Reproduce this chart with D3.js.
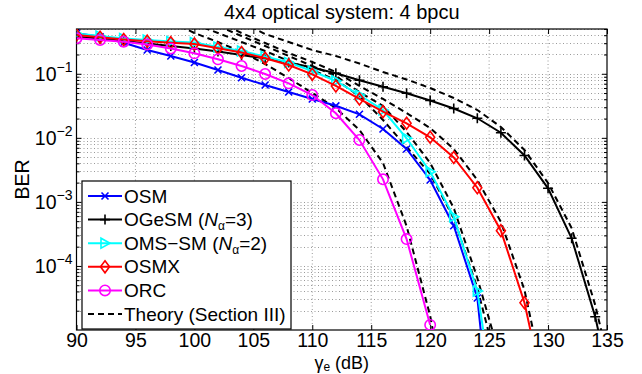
<!DOCTYPE html>
<html>
<head>
<meta charset="utf-8">
<script src="https://cdn.jsdelivr.net/npm/d3@7"></script>
<style>
  body { margin: 0; background: #fff; }
  svg { display: block; font-family: "Liberation Sans", Arial, Helvetica, sans-serif; }
</style>
</head>
<body>
<svg id="chart" width="642" height="374"></svg>
<script>
/* BER curves. Simulated curves share the 2 dB grid,
   theory curves start further right because they begin above BER = 0.5 */
const snrSim = [90, 92, 94, 96, 98, 100, 102, 104, 106, 108, 110, 112, 114, 116, 118, 120, 122, 124, 126, 128, 130, 132, 134, 136];

const berOSM   = [0.428, 0.379, 0.3055, 0.235, 0.1894, 0.15, 0.1146, 0.0868, 0.0668, 0.0519, 0.0404, 0.0316, 0.0233, 0.01374, 0.0067, 0.0022, 4.25e-4, 3.16e-5, 1e-8];
const berOGeSM = [0.38, 0.3553, 0.3249, 0.297, 0.2714, 0.248, 0.2227, 0.1964, 0.1732, 0.15, 0.1253, 0.1017, 0.0791, 0.0628, 0.0496, 0.0383, 0.0287, 0.0202, 0.012, 0.0053, 0.00163, 2.7e-4, 1.61e-5, 3.5e-7];
const berOMSSM = [0.4253, 0.3888, 0.3553, 0.3367, 0.319, 0.3078, 0.2618, 0.2267, 0.186, 0.15, 0.1105, 0.0772, 0.0466, 0.0272, 0.00984, 0.00296, 5.87e-4, 4.06e-5, 1.5e-7];
const berOSMX  = [0.403, 0.371, 0.3428, 0.3225, 0.3055, 0.2915, 0.2498, 0.2149, 0.1744, 0.1371, 0.0981, 0.0645, 0.0404, 0.0256, 0.01687, 0.0102, 0.00493, 0.001665, 3.55e-4, 2.67e-5, 5.3e-7];
const berORC   = [0.36, 0.3367, 0.3166, 0.2864, 0.248, 0.2088, 0.1683, 0.1322, 0.0992, 0.071, 0.0466, 0.0242, 0.00925, 0.00225, 2.63e-4, 1.2e-5];

const snrThOSM   = [100, 102, 104, 106, 108, 110, 112, 114, 116, 118, 120, 122, 124, 126];
const thOSM      = [0.598, 0.433, 0.3133, 0.2267, 0.1583, 0.1146, 0.08, 0.045, 0.019, 0.0072, 0.00273, 5.61e-4, 4.53e-5, 1.66e-6];
const snrThOGeSM = [104, 106, 108, 110, 112, 114, 116, 118, 120, 122, 124, 126, 128, 130, 132, 134, 136];
const thOGeSM    = [0.643, 0.418, 0.3133, 0.235, 0.1894, 0.1447, 0.1066, 0.0814, 0.06, 0.0419, 0.0272, 0.01476, 0.00646, 0.00197, 3.91e-4, 2.46e-5, 6.8e-7];
const snrThOMSSM = [102, 104, 106, 108, 110, 112, 114, 116, 118, 120, 122, 124, 126];
const thOMSSM    = [0.557, 0.3888, 0.2714, 0.1894, 0.1322, 0.0923, 0.0519, 0.0314, 0.01234, 0.00405, 8.03e-4, 6.49e-5, 3.4e-6];
const snrThOSMX  = [102, 104, 106, 108, 110, 112, 114, 116, 118, 120, 122, 124, 126, 128, 130];
const thOSMX     = [0.643, 0.433, 0.3023, 0.2111, 0.1527, 0.1066, 0.0645, 0.0404, 0.0244, 0.01424, 0.0067, 0.0022, 4.86e-4, 4.21e-5, 8.1e-7];
const snrThORC   = [98, 100, 102, 104, 106, 108, 110, 112, 114, 116, 118, 120, 122];
const thORC      = [0.643, 0.433, 0.3133, 0.2188, 0.1421, 0.0859, 0.0501, 0.0292, 0.01326, 0.00405, 4.2e-4, 1.66e-5, 1.9e-7];

const xTicks = [90, 95, 100, 105, 110, 115, 120, 125, 130, 135];
const yDecades = [1e-4, 1e-3, 1e-2, 1e-1];
const yDecadeLabels = ["\u22124", "\u22123", "\u22122", "\u22121"];

const titleText = "4x4 optical system: 4 bpcu";

// simulated series: name pieces (for the legend), colour, marker
const series = [
  { label: [["OSM"]],                                    color: "#0000ff", marker: "x",        snr: snrSim, ber: berOSM },
  { label: [["OGeSM ("], ["N", "i"], ["\u03b1", "sub"], ["=3)"]], color: "#000000", marker: "plus",     snr: snrSim, ber: berOGeSM },
  { label: [["OMS\u2212SM ("], ["N", "i"], ["\u03b1", "sub"], ["=2)"]], color: "#00ffff", marker: "triangle", snr: snrSim, ber: berOMSSM },
  { label: [["OSMX"]],                                   color: "#ff0000", marker: "diamond",  snr: snrSim, ber: berOSMX },
  { label: [["ORC"]],                                    color: "#ff00ff", marker: "circle",   snr: snrSim, ber: berORC }
];
const theory = [
  { snr: snrThOSM, ber: thOSM },
  { snr: snrThOGeSM, ber: thOGeSM },
  { snr: snrThOMSSM, ber: thOMSSM },
  { snr: snrThOSMX, ber: thOSMX },
  { snr: snrThORC, ber: thORC }
];

const W = 642, H = 374;
const plot = { left: 76.5, right: 607, top: 29, bottom: 330 };
const FONT = 19.5;

const svg = d3.select("#chart");
const x = d3.scaleLinear().domain([90, 135]).range([plot.left, plot.right]);
const y = d3.scaleLog().domain([1e-5, 0.5]).range([plot.bottom, plot.top]);

svg.append("rect").attr("width", W).attr("height", H).attr("fill", "#fff");

svg.append("defs").append("clipPath").attr("id", "clip")
  .append("rect")
  .attr("x", plot.left).attr("y", plot.top)
  .attr("width", plot.right - plot.left).attr("height", plot.bottom - plot.top);

// minor y values (2..9 x 10^k) for grid + ticks
const yMinor = [];
for (let k = -5; k <= -1; k++) {
  for (let m = 2; m <= 9; m++) {
    const v = m * Math.pow(10, k);
    if (v <= 0.5) yMinor.push(v);
  }
}

// grid (dotted, MATLAB style)
const grid = svg.append("g").attr("stroke", "#9a9a9a").attr("stroke-width", 1)
  .attr("stroke-dasharray", "1,2.5").attr("fill", "none");
grid.selectAll(".gx").data(xTicks.slice(1, -1)).join("line")
  .attr("x1", d => x(d)).attr("x2", d => x(d))
  .attr("y1", plot.top).attr("y2", plot.bottom);
grid.selectAll(".gy").data(yDecades.concat(yMinor)).join("line")
  .attr("x1", plot.left).attr("x2", plot.right)
  .attr("y1", d => Math.round(y(d)) + 0.5).attr("y2", d => Math.round(y(d)) + 0.5);

// axes: inward ticks on all four sides
function styleAxis(g) {
  g.select(".domain").remove();
  g.selectAll("line").attr("stroke", "#000");
  g.selectAll("text").attr("font-size", FONT).attr("fill", "#000");
}
svg.append("g").attr("transform", `translate(0,${plot.bottom})`)
  .call(d3.axisBottom(x).tickValues(xTicks).tickSizeInner(-5).tickSizeOuter(0).tickPadding(3))
  .call(styleAxis);
svg.append("g").attr("transform", `translate(0,${plot.top})`)
  .call(d3.axisTop(x).tickValues(xTicks).tickSizeInner(-5).tickSizeOuter(0).tickFormat(""))
  .call(styleAxis);

svg.append("g").attr("transform", `translate(${plot.left},0)`)
  .call(d3.axisLeft(y).tickValues(yDecades).tickSizeInner(-5).tickSizeOuter(0).tickFormat(""))
  .call(styleAxis);
svg.append("g").attr("transform", `translate(${plot.left},0)`)
  .call(d3.axisLeft(y).tickValues(yMinor).tickSizeInner(-3).tickSizeOuter(0).tickFormat(""))
  .call(styleAxis);
svg.append("g").attr("transform", `translate(${plot.right},0)`)
  .call(d3.axisRight(y).tickValues(yDecades).tickSizeInner(-5).tickSizeOuter(0).tickFormat(""))
  .call(styleAxis);
svg.append("g").attr("transform", `translate(${plot.right},0)`)
  .call(d3.axisRight(y).tickValues(yMinor).tickSizeInner(-3).tickSizeOuter(0).tickFormat(""))
  .call(styleAxis);

// y tick labels 10^k
yDecades.forEach((d, i) => {
  const t = svg.append("text")
    .attr("x", plot.left - 4).attr("y", y(d) + 7)
    .attr("text-anchor", "end").attr("font-size", FONT);
  t.append("tspan").text("10");
  t.append("tspan").attr("dy", -9).attr("font-size", 14).text(yDecadeLabels[i]);
});

// plot frame
svg.append("rect")
  .attr("x", plot.left).attr("y", plot.top)
  .attr("width", plot.right - plot.left).attr("height", plot.bottom - plot.top)
  .attr("fill", "none").attr("stroke", "#000").attr("stroke-width", 1.2);

// curves
const curves = svg.append("g").attr("clip-path", "url(#clip)");
const line = d3.line().x(d => x(d[0])).y(d => y(d[1]));

theory.forEach(t => {
  curves.append("path")
    .datum(t.ber.map((b, i) => [t.snr[i], b]))
    .attr("d", line)
    .attr("fill", "none").attr("stroke", "#000")
    .attr("stroke-width", 2).attr("stroke-dasharray", "6,4");
});

function drawMarker(g, type, color) {
  const s = g.append(type === "circle" ? "circle" : "path")
    .attr("fill", "none").attr("stroke", color).attr("stroke-width", 1.6);
  if (type === "circle") s.attr("r", 5.2);
  else if (type === "x") s.attr("d", "M-3.5,-3.5L3.5,3.5M-3.5,3.5L3.5,-3.5");
  else if (type === "plus") s.attr("d", "M-5,0L5,0M0,-5L0,5");
  else if (type === "diamond") s.attr("d", "M0,-6L4.5,0L0,6L-4.5,0Z");
  else if (type === "triangle") s.attr("d", "M5,0L-4,-5L-4,5Z");
}

series.forEach(s => {
  const pts = s.ber.map((b, i) => [s.snr[i], b]);
  curves.append("path").datum(pts).attr("d", line)
    .attr("fill", "none").attr("stroke", s.color).attr("stroke-width", 2);
  pts.forEach(p => {
    const g = curves.append("g").attr("transform", `translate(${x(p[0])},${y(p[1])})`);
    drawMarker(g, s.marker, s.color);
  });
});

// legend
const lg = { x: 82, y: 181, w: 209, h: 148, row: 23.6 };
const LEG_FONT = 19;
const legend = svg.append("g");
legend.append("rect").attr("x", lg.x).attr("y", lg.y).attr("width", lg.w).attr("height", lg.h)
  .attr("fill", "#fff").attr("stroke", "#000").attr("stroke-width", 1.2);

function labelText(sel, parts) {
  let lowered = false;
  parts.forEach(p => {
    const ts = sel.append("tspan").text(p[0]);
    if (p[1] === "i") ts.attr("font-style", "italic");
    if (p[1] === "sub") { ts.attr("font-size", 12).attr("dy", 4); lowered = true; }
    else if (lowered) { ts.attr("dy", -4); lowered = false; }
  });
}

series.forEach((s, i) => {
  const cy = lg.y + 15 + i * lg.row;
  legend.append("line").attr("x1", lg.x + 6).attr("x2", lg.x + 40)
    .attr("y1", cy).attr("y2", cy).attr("stroke", s.color).attr("stroke-width", 2);
  drawMarker(legend.append("g").attr("transform", `translate(${lg.x + 23},${cy})`), s.marker, s.color);
  const t = legend.append("text").attr("x", lg.x + 42).attr("y", cy + 6.5).attr("font-size", LEG_FONT);
  labelText(t, s.label);
});
{
  const cy = lg.y + 15 + 5 * lg.row;
  legend.append("line").attr("x1", lg.x + 6).attr("x2", lg.x + 40)
    .attr("y1", cy).attr("y2", cy).attr("stroke", "#000").attr("stroke-width", 2)
    .attr("stroke-dasharray", "6,4");
  legend.append("text").attr("x", lg.x + 42).attr("y", cy + 6.5).attr("font-size", LEG_FONT)
    .text("Theory (Section III)");
}

// titles
svg.append("text").attr("x", (plot.left + plot.right) / 2).attr("y", 19)
  .attr("text-anchor", "middle").attr("font-size", 20).text(titleText);

svg.append("text").attr("transform", `translate(29,${(plot.top + plot.bottom) / 2}) rotate(-90)`)
  .attr("text-anchor", "middle").attr("font-size", FONT).text("BER");

const xl = svg.append("text").attr("x", (plot.left + plot.right) / 2).attr("y", 368.5)
  .attr("text-anchor", "middle").attr("font-size", 18);
xl.append("tspan").text("\u03b3");
xl.append("tspan").attr("font-size", 12).attr("dy", 2).text("e");
xl.append("tspan").attr("dy", -2).text(" (dB)");
</script>
</body>
</html>
